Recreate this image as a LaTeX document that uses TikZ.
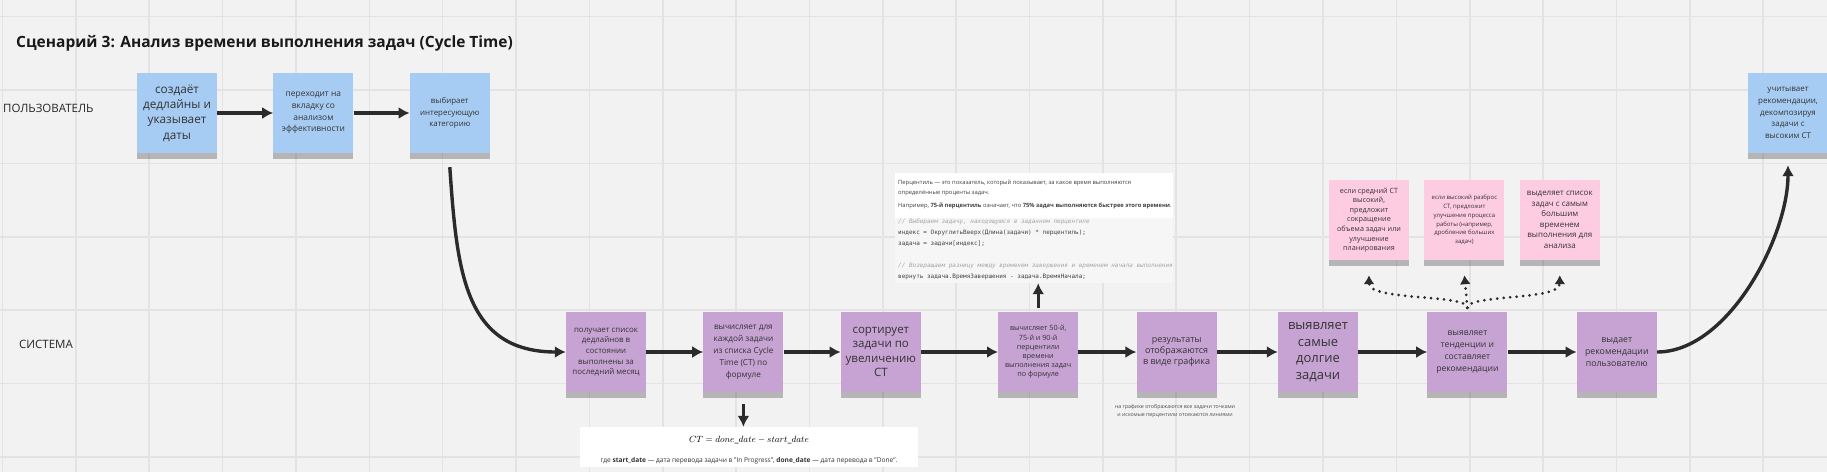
\documentclass[tikz,border=0pt]{standalone}
\usepackage{fontspec}
\setmainfont{Open Sans}
\setmonofont{DejaVu Sans Mono}
\usetikzlibrary{%
    arrows.meta,
    positioning,
    shadows
}
\definecolor{canvas}{HTML}{F2F2F2}
\definecolor{gridgray}{HTML}{E3E3E3}
\definecolor{noteblue}{HTML}{A7CCF4}
\definecolor{notepurple}{HTML}{C7A3D4}
\definecolor{notepink}{HTML}{FECCE0}
\definecolor{inkgray}{HTML}{333333}
\definecolor{arrowgray}{HTML}{2B2B2B}
\definecolor{codebg}{HTML}{F6F6F6}
\definecolor{commentgray}{HTML}{A5A5A5}
\tikzset{
    txt/.style 2 args = {font=\fontsize{#1}{#2}\selectfont},
    sticky/.style = {minimum width=80pt, minimum height=80pt, inner sep=1pt,
        align=center, text=inkgray,
        drop shadow={shadow xshift=0pt, shadow yshift=-6pt, opacity=.25, fill=black}},
    bluenote/.style = {sticky, fill=noteblue},
    purplenote/.style = {sticky, fill=notepurple},
    pinknote/.style = {sticky, fill=notepink},
    flowarrow/.style = {draw=arrowgray, line width=3.4pt, -{Latex[length=11pt,width=12pt]}},
    hintarrow/.style = {draw=arrowgray, line width=3pt, line cap=round,
        dash pattern=on 0pt off 6.5pt, -{Latex[length=9pt,width=11pt]}},
    gridline/.style = {draw=gridgray, line width=1.6pt},
    lanelabel/.style = {anchor=west, inner sep=0pt, text=black!85, txt={11.5}{14}},
    pctline/.style = {anchor=west, inner sep=0pt, text=black!75, txt={5.8}{7}},
    codeline/.style = {anchor=west, inner sep=0pt, text=black!75, font=\ttfamily\fontsize{6}{7}\selectfont},
    commentline/.style = {codeline, text=commentgray, font=\ttfamily\itshape\fontsize{6}{7}\selectfont}
}

\begin{document}
\begin{tikzpicture}[x=1pt, y=-1pt]
    \useasboundingbox (0,0) rectangle (1827,472);
    \fill[canvas] (0,0) rectangle (1827,472);
    \foreach \i in {0,...,24}
        \draw[gridline] (2.5+73.36*\i,0) -- (2.5+73.36*\i,472);
    \foreach \j in {0,...,6}
        \draw[gridline] (0,16.6+73.4*\j) -- (1827,16.6+73.4*\j);

    \node[anchor=west, inner sep=0pt, text=black!90, font=\bfseries\fontsize{15.5}{17}\selectfont]
        (title) at (16,43) {Сценарий 3: Анализ времени выполнения задач (Cycle Time)};
    \node[lanelabel] (userlane) at (3,108) {ПОЛЬЗОВАТЕЛЬ};
    \node[lanelabel] (syslane) at (19,344) {СИСТЕМА};

    % user row
    \node[bluenote, txt={11.8}{15.3}] (b1) at (177,113) {создаёт\\дедлайны и\\указывает\\даты};
    \node[bluenote, txt={8.4}{11.7}] (b2) [right=56pt of b1] {переходит на\\вкладку со\\анализом\\эффективности};
    \node[bluenote, txt={7.9}{11.3}] (b3) [right=56pt of b2] {выбирает\\интересующую\\категорию};
    \node[bluenote, txt={8}{11.7}] (b4) at (1788,113) {учитывает\\рекомендации,\\декомпозируя\\задачи с\\высоким CT};

    % system row
    \node[purplenote, txt={7.9}{10.7}] (p1) at (606,352) {получает список\\дедлайнов в\\состоянии\\выполнены за\\последний месяц};
    \node[purplenote, txt={8.2}{12}] (p2) [right=57pt of p1] {вычисляет для\\каждой задачи\\из списка Cycle\\Time (CT) по\\формуле};
    \node[purplenote, txt={11.5}{14.5}] (p3) [right=57pt of p2] {сортирует\\задачи по\\увеличению\\CT};
    \node[purplenote, txt={7.2}{9.2}] (p4) [right=77pt of p3] {вычисляет 50-й,\\75-й и 90-й\\перцентили\\времени\\выполнения задач\\по формуле};
    \node[purplenote, txt={9}{11}] (p5) [right=58pt of p4] {результаты\\отображаются\\в виде графика};
    \node[purplenote, txt={13}{16.5}] (p6) [right=61pt of p5] {выявляет\\самые\\долгие\\задачи};
    \node[purplenote, txt={8.6}{12}] (p7) [right=69pt of p6] {выявляет\\тенденции и\\составляет\\рекомендации};
    \node[purplenote, txt={8.8}{12}] (p8) [right=69pt of p7] {выдает\\рекомендации\\пользователю};

    % recommendations
    \node[pinknote, txt={7.2}{9.6}] (pk1) at (1369,220) {если средний CT\\высокий,\\предложит\\сокращение\\объема задач или\\улучшение\\планирования};
    \node[pinknote, txt={6}{8.8}] (pk2) [right=15pt of pk1] {если высокий разброс\\CT, предложит\\улучшение процесса\\работы (например,\\дробление больших\\задач)};
    \node[pinknote, txt={8}{10.5}] (pk3) [right=15pt of pk2] {выделяет список\\задач с самым\\большим\\временем\\выполнения для\\анализа};

    % percentile note
    \node[fill=white, minimum width=278pt, minimum height=110pt, inner sep=0pt] (pctbox) at (1034,228) {};
    \fill[codebg] (895,218) rectangle (1173,283);
    \node[pctline] (pt1) at (898,183) {Перцентиль — это показатель, который показывает, за какое время выполняются};
    \node[pctline] (pt2) at (898,193) {определённые проценты задач.};
    \node[pctline] (pt3) at (898,206) {Например, \textbf{75-й перцентиль} означает, что \textbf{75\% задач выполняются быстрее этого времени}.};
    \node[commentline] (pt4) at (898,222) {// Выбираем задачу, находящуюся в заданном перцентиле};
    \node[codeline] (pt5) at (898,233) {индекс = ОкруглитьВверх(Длина(задачи) * перцентиль);};
    \node[codeline] (pt6) at (898,244) {задача = задачи[индекс];};
    \node[commentline] (pt7) at (898,266) {// Возвращаем разницу между временем завершения и временем начала выполнения};
    \node[codeline] (pt8) at (898,277) {вернуть задача.ВремяЗавершения - задача.ВремяНачала;};

    % formula note
    \node[fill=white, minimum width=338pt, minimum height=40pt, inner sep=0pt] (fbox) at (749,447) {};
    \node[inner sep=0pt, font=\fontsize{9}{11}\selectfont] (formula) at (749,440) {$CT = done\_date - start\_date$};
    \node[inner sep=0pt, text=black!80, txt={6.6}{8}] (fnote) at (749,461)
        {где \textbf{start\_date} — дата перевода задачи в "In Progress", \textbf{done\_date} — дата перевода в "Done".};

    \node[inner sep=0pt, align=center, text=black!70, txt={5.3}{8}] (chartnote) at (1175,411)
        {на графике отображаются все задачи точками\\и искомые перцентили отсекаются линиями};

    % connectors
    \draw[flowarrow] (b1) -- (b2);
    \draw[flowarrow] (b2) -- (b3);
    \draw[flowarrow] ([yshift=-14pt]b3.south) to[out=-86, in=180, looseness=1.2] (p1.west);
    \foreach \x [remember=\x as \lastx (initially 1)] in {2,...,8}
        \draw[flowarrow] (p\lastx) -- (p\x);
    \draw[flowarrow] ([yshift=-12pt]p2.south) -- (p2.south |- fbox.north);
    \draw[flowarrow] ([yshift=4pt]p4.north) -- (p4.north |- pctbox.south);
    \draw[hintarrow] ([yshift=4pt]p7.north) -- ([yshift=-15pt]pk2.south);
    \draw[hintarrow] ([yshift=4pt]p7.north) .. controls +(0,-14) and +(0,26) .. ([yshift=-15pt]pk1.south);
    \draw[hintarrow] ([yshift=4pt]p7.north) .. controls +(0,-14) and +(0,26) .. ([yshift=-15pt]pk3.south);
    \draw[flowarrow] (p8.east) to[out=0, in=-90, looseness=0.8] ([yshift=-12pt]b4.south);
\end{tikzpicture}
\end{document}
